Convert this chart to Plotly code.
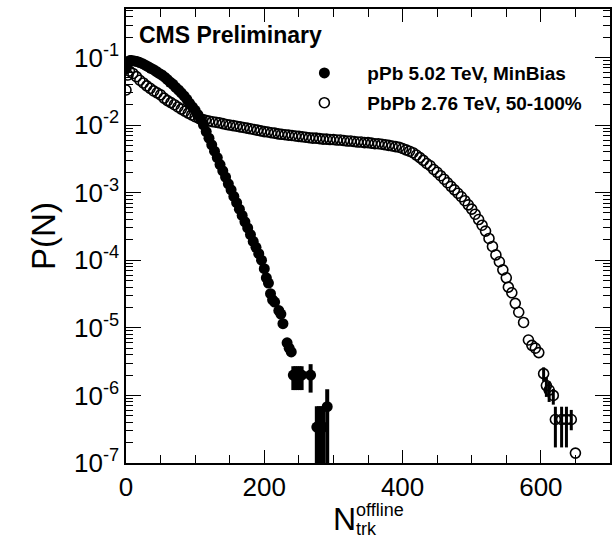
import plotly.graph_objects as go

# ---------------- data ----------------
ppb_n = [0, 2, 4, 6, 8, 12, 16, 20, 24, 28, 32, 36, 40, 44, 48, 52, 56, 60, 64, 68,
         72, 76, 80, 84, 88, 92, 96, 100, 104, 108, 112, 116, 120, 124, 128, 132, 136,
         140, 144, 148, 152, 156, 160, 164, 168, 172, 176, 180, 184, 188, 192, 196,
         200, 203, 206, 209, 212, 215, 221, 224, 227, 233, 236, 239,
         242, 245, 248, 251, 254, 267, 276, 279, 282, 285, 291]
ppb_p = [0.068, 0.082, 0.088, 0.090, 0.090, 0.089, 0.087, 0.084, 0.081, 0.077, 0.073,
         0.069, 0.066, 0.062, 0.058, 0.055, 0.051, 0.047, 0.043, 0.040, 0.036, 0.033,
         0.030, 0.027, 0.024, 0.021, 0.0185, 0.0165, 0.0142, 0.0120, 0.0101, 0.0080,
         0.0064, 0.0051, 0.0041, 0.0033, 0.0026, 0.0021, 0.0017, 0.00135, 0.00110,
         0.00088, 0.00071, 0.00057, 0.00046, 0.00037, 0.00030, 0.00024, 0.00019,
         0.000155, 0.000125, 0.000100,
         7.5e-5, 5.5e-5, 4.6e-5, 3.2e-5, 2.6e-5, 2.4e-5, 1.8e-5, 1.6e-5, 1.15e-5,
         6.0e-6, 5.0e-6, 4.4e-6,
         2.0e-6, 2.0e-6, 2.0e-6, 2.0e-6, 2.0e-6, 2.0e-6,
         3.4e-7, 3.4e-7, 3.4e-7, 3.4e-7, 6.8e-7]
ppb_err_up = [0] * 64 + [0.7e-6] * 5 + [0.9e-6] + [3.5e-7] * 4 + [5.5e-7]
ppb_err_dn = [0] * 64 + [0.8e-6] * 5 + [0.9e-6] + [3.35e-7] * 4 + [6.75e-7]

pbpb_n = [0, 3, 5, 10, 15, 20, 25, 30, 35, 40, 45, 50, 55, 60, 65, 70, 75, 80, 85, 90,
          95, 100, 105, 110, 115, 120, 125, 130, 135, 140, 145, 150, 155, 160, 165,
          170, 175, 180, 185, 190, 195, 200, 205, 210, 215, 220, 225, 230, 235, 240,
          245, 250, 255, 260, 265, 270, 275, 280, 285, 290, 295, 300, 305, 310, 315,
          320, 325, 330, 335, 340, 345, 350, 355, 360, 365, 370, 375, 380, 385, 390,
          395, 400, 405, 410, 415, 420, 425, 430, 435, 440, 445, 450, 455, 460, 465,
          470, 475, 480, 485, 490, 495, 500, 505, 510, 515, 520, 525, 530, 535, 540,
          545, 550, 553, 558, 563, 568, 575, 582, 587, 592, 597, 604, 608, 612, 618,
          621, 630, 637, 644, 650]
pbpb_p = [0.033, 0.055, 0.063, 0.058, 0.052, 0.046, 0.042, 0.038, 0.035, 0.032, 0.030,
          0.028, 0.025, 0.023, 0.0215, 0.020, 0.0185, 0.0172, 0.0160, 0.0150, 0.0141,
          0.0133, 0.0127, 0.0122, 0.0118, 0.0115, 0.0112, 0.0110, 0.0108, 0.0105,
          0.0102, 0.0100, 0.0098, 0.0096, 0.0094, 0.0092, 0.0090, 0.0088, 0.0086,
          0.0084, 0.0082, 0.0080, 0.0079, 0.0077, 0.0076, 0.0074, 0.0073, 0.0072,
          0.0071, 0.0070, 0.0069, 0.0068, 0.0067, 0.0066, 0.0065, 0.0064, 0.0064,
          0.0063, 0.0062, 0.0062, 0.0061, 0.0061, 0.0060, 0.0060, 0.0059, 0.0058,
          0.0058, 0.0057, 0.0056, 0.0056, 0.0055, 0.0055, 0.0054, 0.0053, 0.0053,
          0.0052, 0.0051, 0.0050, 0.0049, 0.0048, 0.0047, 0.0045, 0.0043, 0.0041,
          0.0039, 0.0036, 0.0033, 0.0030, 0.0027, 0.0025, 0.0022, 0.0020, 0.00178,
          0.00158, 0.0014, 0.00124, 0.0011, 0.00098, 0.00087, 0.00076, 0.00066,
          0.00057, 0.00048, 0.00040, 0.00033, 0.00027, 0.00021, 0.00016, 0.00012,
          9.5e-5, 7.2e-5, 5.5e-5, 4.0e-5, 3.3e-5, 2.3e-5, 1.7e-5, 1.2e-5, 6.6e-6,
          5.5e-6, 5.0e-6, 4.3e-6, 2.1e-6, 1.4e-6, 1.2e-6, 1.0e-6,
          4.4e-7, 4.4e-7, 4.4e-7, 4.4e-7, 1.4e-7]
pbpb_err_up = [0] * 121 + [0.5e-6, 0.45e-6, 0.4e-6] + [2.4e-7] * 4 + [1.7e-7]
pbpb_err_dn = [0] * 121 + [0.5e-6, 0.45e-6, 0.4e-6] + [2.7e-7] * 4 + [1.35e-7]

y_tickvals = [1e-7, 1e-6, 1e-5, 1e-4, 1e-3, 1e-2, 1e-1]
y_ticktext = ["10<sup>-7</sup>", "10<sup>-6</sup>", "10<sup>-5</sup>", "10<sup>-4</sup>",
              "10<sup>-3</sup>", "10<sup>-2</sup>", "10<sup>-1</sup>"]
x_tickvals = [0, 200, 400, 600]

label_ppb = "<b>pPb 5.02 TeV, MinBias</b>"
label_pbpb = "<b>PbPb 2.76 TeV, 50-100%</b>"

# ---------------- figure ----------------
FONT = "Liberation Sans, Arial, Helvetica, sans-serif"
fig = go.Figure()

fig.add_trace(go.Scatter(
    x=pbpb_n, y=pbpb_p, mode="markers", name=label_pbpb, legendrank=2,
    legendgroup="b",
    marker=dict(symbol="circle-open", size=10, color="black", line=dict(width=1.6)),
    error_y=dict(type="data", symmetric=False, array=pbpb_err_up,
                 arrayminus=pbpb_err_dn, color="black", thickness=3, width=0),
))
fig.add_trace(go.Scatter(
    x=ppb_n, y=ppb_p, mode="markers", name=label_ppb, legendrank=1,
    legendgroup="a",
    marker=dict(symbol="circle", size=11, color="black"),
    error_y=dict(type="data", symmetric=False, array=ppb_err_up,
                 arrayminus=ppb_err_dn, color="black", thickness=4, width=0),
))

fig.update_layout(
    width=613, height=539,
    margin=dict(l=126, r=1, t=9, b=76),
    paper_bgcolor="white", plot_bgcolor="white",
    font=dict(family=FONT, color="black"),
    showlegend=True,
    legend=dict(x=0.321, y=0.9006, xanchor="left", yanchor="top",
                bgcolor="rgba(0,0,0,0)", font=dict(size=19, family=FONT),
                tracegroupgap=2, itemwidth=76),
)

fig.update_xaxes(
    range=[0, 700], showgrid=False, zeroline=False,
    showline=True, linecolor="black", linewidth=1.5, mirror="ticks",
    ticks="inside", ticklen=13, tickwidth=1.3, tickcolor="black",
    tickvals=x_tickvals, tickfont=dict(size=26, family=FONT),
    minor=dict(ticks="inside", ticklen=8, tickwidth=1.3, tickcolor="black", dtick=50),
)
fig.update_yaxes(
    type="log", range=[-7, -0.283], showgrid=False, zeroline=False,
    showline=True, linecolor="black", linewidth=1.5, mirror="ticks",
    ticks="inside", ticklen=15, tickwidth=1.3, tickcolor="black",
    tickvals=y_tickvals, ticktext=y_ticktext, tickfont=dict(size=26, family=FONT),
    minor=dict(ticks="inside", ticklen=7, tickwidth=1.3, tickcolor="black", dtick="D1"),
    title=dict(text="P(N)", font=dict(size=33, family=FONT), standoff=8),
)

fig.add_annotation(text="<b>CMS Preliminary</b>", xref="paper", yref="paper",
                   x=0.022, y=0.943, xanchor="left", yanchor="middle", showarrow=False,
                   font=dict(size=23, family=FONT))
fig.add_annotation(text="N", xref="paper", yref="paper", x=0.423, y=-0.124,
                   xanchor="left", yanchor="middle", showarrow=False,
                   font=dict(size=32, family=FONT))
fig.add_annotation(text="offline", xref="paper", yref="paper", x=0.471, y=-0.104,
                   xanchor="left", yanchor="middle", showarrow=False,
                   font=dict(size=18, family=FONT))
fig.add_annotation(text="trk", xref="paper", yref="paper", x=0.471, y=-0.145,
                   xanchor="left", yanchor="middle", showarrow=False,
                   font=dict(size=18, family=FONT))

fig.write_html("out.html")
